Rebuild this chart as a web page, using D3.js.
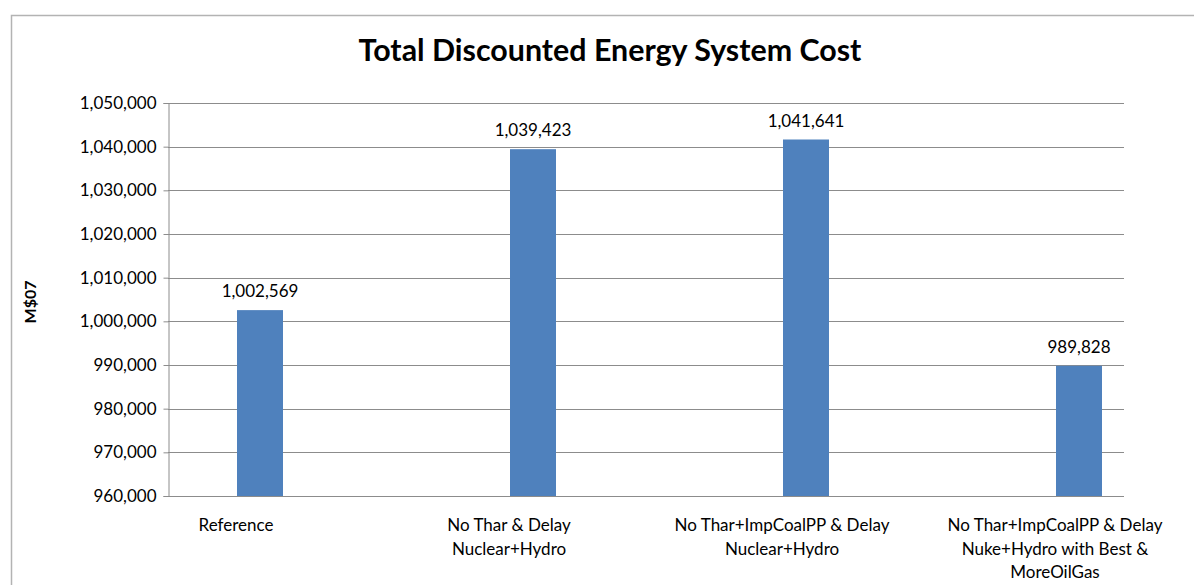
<!DOCTYPE html>
<html>
<head>
<meta charset="utf-8">
<script src="https://cdn.jsdelivr.net/npm/d3@7"></script>
<style>
  body { margin: 0; background: #fff; }
  svg { display: block; font-family: Lato, "Open Sans", sans-serif; }
</style>
</head>
<body>
<script>
const categories = [
  ['Reference'],
  ['No Thar & Delay', 'Nuclear+Hydro'],
  ['No Thar+ImpCoalPP & Delay', 'Nuclear+Hydro'],
  ['No Thar+ImpCoalPP & Delay', 'Nuke+Hydro with Best &', 'MoreOilGas']
];
const values = [1002569, 1039423, 1041641, 989828];
const yTicks = [960000, 970000, 980000, 990000, 1000000, 1010000, 1020000, 1030000, 1040000, 1050000];

const W = 1194, H = 585;
const plot = { left: 168, right: 1124, top: 103, bottom: 496 };

const svg = d3.select('body').append('svg')
  .attr('width', W)
  .attr('height', H);

// outer chart frame (cropped at right/bottom)
svg.append('path')
  .attr('d', `M11.5,${H + 2} V15.5 H${W + 2}`)
  .attr('fill', 'none')
  .attr('stroke', '#b3b3b3')
  .attr('stroke-width', 1.5);

const title = svg.append('text')
  .attr('x', 610)
  .attr('y', 61)
  .attr('text-anchor', 'middle')
  .attr('font-weight', 'bold')
  .attr('font-size', 29)
  .attr('fill', '#000')
  .text('Total Discounted Energy System Cost');
// fit to the width of the original title
const tw = title.node().getComputedTextLength();
title.attr('font-size', 29 * 503 / tw);

const y = d3.scaleLinear()
  .domain([960000, 1050000])
  .range([plot.bottom, plot.top]);

const x = d3.scalePoint()
  .domain(d3.range(categories.length))
  .range([236, 1055]);

const barW = 46;
const fmt = d3.format(',');

// gridlines
svg.append('g')
  .selectAll('line')
  .data(yTicks)
  .join('line')
  .attr('x1', plot.left)
  .attr('x2', plot.right)
  .attr('y1', d => Math.round(y(d)) + 0.5)
  .attr('y2', d => Math.round(y(d)) + 0.5)
  .attr('stroke', '#8c8c8c')
  .attr('stroke-width', 1);

const yAxis = svg.append('g')
  .attr('transform', `translate(${plot.left + 0.5},0)`)
  .call(d3.axisLeft(y).tickValues(yTicks).tickFormat(fmt).tickSize(5).tickPadding(7));
yAxis.select('.domain').attr('stroke', '#8c8c8c');
yAxis.selectAll('.tick line').attr('stroke', '#8c8c8c');
yAxis.selectAll('.tick text')
  .attr('font-size', 17)
  .attr('font-family', 'Lato, sans-serif')
  .attr('fill', '#000');

// bars
svg.append('g')
  .selectAll('rect')
  .data(values)
  .join('rect')
  .attr('x', (d, i) => x(i) + 1)
  .attr('y', d => y(d))
  .attr('width', barW)
  .attr('height', d => plot.bottom - y(d))
  .attr('fill', '#4f81bd');

// data labels
svg.append('g')
  .selectAll('text')
  .data(values)
  .join('text')
  .attr('x', (d, i) => x(i) + 1 + barW / 2)
  .attr('y', d => y(d) - 13)
  .attr('text-anchor', 'middle')
  .attr('font-size', 17)
  .attr('fill', '#000')
  .text(d => fmt(d));

// bottom axis line
svg.append('line')
  .attr('x1', plot.left)
  .attr('x2', plot.right)
  .attr('y1', plot.bottom + 0.5)
  .attr('y2', plot.bottom + 0.5)
  .attr('stroke', '#8c8c8c');

// category labels
const cat = svg.append('g')
  .selectAll('text')
  .data(categories)
  .join('text')
  .attr('x', (d, i) => x(i))
  .attr('y', 531)
  .attr('text-anchor', 'middle')
  .attr('font-size', 17)
  .attr('fill', '#000');
cat.selectAll('tspan')
  .data(d => d)
  .join('tspan')
  .attr('x', function () { return this.parentNode.getAttribute('x'); })
  .attr('dy', (d, i) => i === 0 ? 0 : 23.5)
  .text(d => d);

// y axis title
svg.append('text')
  .attr('transform', 'translate(36,302) rotate(-90)')
  .attr('text-anchor', 'middle')
  .attr('font-weight', 'bold')
  .attr('font-size', 16)
  .attr('fill', '#000')
  .text('M$07');
</script>
</body>
</html>
